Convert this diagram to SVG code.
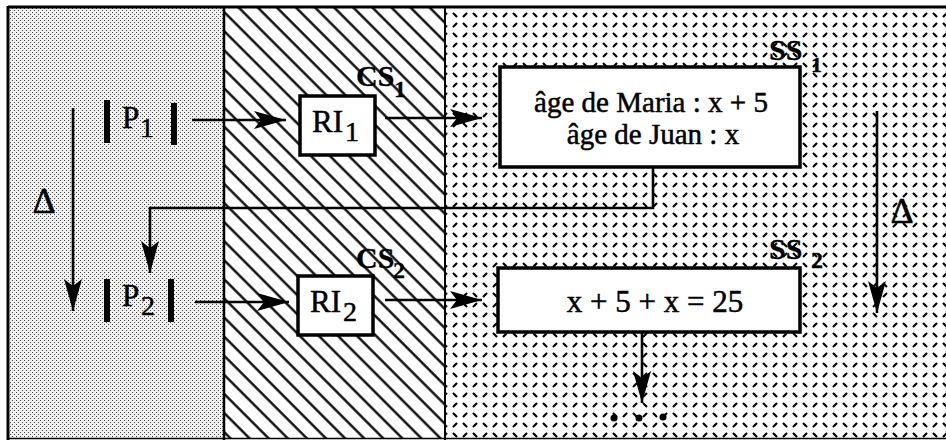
<svg xmlns="http://www.w3.org/2000/svg" width="946" height="440" viewBox="0 0 946 440">
<style>
.box{fill:#fff;stroke:#000;stroke-width:3.5}
.bar{fill:#000}
.t{font-family:"Liberation Serif","Times New Roman",serif;fill:#000;stroke:#000;stroke-width:0.5}
.b{font-weight:bold;stroke-width:0.3}
.conn{fill:none;stroke:#000;stroke-width:2.6}
.frame{stroke:#000;fill:none}
</style>
<defs>
<pattern id="dots" width="4" height="4" patternUnits="userSpaceOnUse">
<rect width="4" height="4" fill="#f2f2f2"/>
<rect x="0" y="0" width="1" height="1" fill="#444"/>
<rect x="2" y="2" width="1" height="1" fill="#444"/>
</pattern>
<pattern id="hatch" width="13.5" height="13.5" patternUnits="userSpaceOnUse" patternTransform="rotate(-45)">
<rect width="13.5" height="13.5" fill="#fff"/>
<line x1="1.5" y1="0" x2="1.5" y2="13.5" stroke="#000" stroke-width="2.3"/>
</pattern>
<pattern id="dash" width="20" height="20" patternUnits="userSpaceOnUse">
<rect width="20" height="20" fill="#fff"/>
<g stroke="#000" stroke-width="2.2" stroke-linecap="butt">
<line x1="3" y1="3" x2="7" y2="7"/>
<line x1="13" y1="7" x2="17" y2="3"/>
<line x1="3" y1="17" x2="7" y2="13"/>
<line x1="13" y1="13" x2="17" y2="17"/>
</g>
</pattern>
<marker id="ah" markerUnits="userSpaceOnUse" markerWidth="34" markerHeight="18" refX="32" refY="9" orient="auto">
<path d="M0,0 L32,9 L0,18 L7,9 z" fill="#000"/>
</marker>
</defs>

<g id="zones">
<rect x="9" y="8" width="215" height="431" fill="url(#dots)"/>
<rect x="224" y="8" width="221" height="431" fill="url(#hatch)"/>
<rect x="445" y="8" width="501" height="431" fill="url(#dash)"/>
<line class="frame" x1="8" y1="7" x2="946" y2="7" stroke-width="3"/>
<line class="frame" x1="8" y1="6" x2="8" y2="440" stroke-width="3"/>
<line class="frame" x1="8" y1="438.5" x2="946" y2="438.5" stroke-width="1.5"/>
<line class="frame" x1="224" y1="7" x2="224" y2="440" stroke-width="2.5"/>
<line class="frame" x1="445" y1="7" x2="445" y2="440" stroke-width="2"/>
</g>

<g id="connectors">
<line class="conn" x1="192" y1="120" x2="286" y2="120" marker-end="url(#ah)"/>
<line class="conn" x1="385" y1="118" x2="482" y2="118" marker-end="url(#ah)"/>
<polyline class="conn" points="653,167 653,208 150,208 150,273" marker-end="url(#ah)"/>
<line class="conn" x1="195" y1="302" x2="289" y2="302" marker-end="url(#ah)"/>
<line class="conn" x1="385" y1="300" x2="482" y2="300" marker-end="url(#ah)"/>
<line class="conn" x1="642" y1="332" x2="642" y2="403" marker-end="url(#ah)"/>
<line class="conn" x1="73" y1="108" x2="73" y2="311" marker-end="url(#ah)"/>
<line class="conn" x1="877" y1="111" x2="877" y2="313" marker-end="url(#ah)"/>
</g>

<g id="P1">
<rect class="bar" x="104" y="100" width="6" height="43"/>
<rect class="bar" x="171" y="103" width="6" height="42"/>
<text class="t" x="122" y="128" font-size="31">P</text>
<text class="t" x="140" y="137" font-size="28">1</text>
</g>

<g id="P2">
<rect class="bar" x="104" y="279" width="6" height="43"/>
<rect class="bar" x="168" y="279" width="6" height="43"/>
<text class="t" x="122" y="306" font-size="31">P</text>
<text class="t" x="141" y="315" font-size="28">2</text>
</g>

<g id="RI1">
<rect class="box" x="300" y="96" width="75" height="59"/>
<text class="t" x="312" y="132" font-size="31">RI</text>
<text class="t" x="345" y="141" font-size="28">1</text>
</g>

<g id="RI2">
<rect class="box" x="298" y="276" width="75" height="59"/>
<text class="t" x="310" y="312" font-size="31">RI</text>
<text class="t" x="343" y="321" font-size="28">2</text>
</g>

<g id="CS1">
<text class="t b" x="356" y="86" font-size="30">CS</text>
<text class="t b" x="394" y="97" font-size="24">1</text>
</g>

<g id="CS2">
<text class="t b" x="356" y="268" font-size="30">CS</text>
<text class="t b" x="393" y="278" font-size="24">2</text>
</g>

<g id="SS1">
<text class="t b" x="769" y="60" font-size="30">SS</text>
<text class="t b" x="811" y="72" font-size="22">1</text>
</g>

<g id="SS2">
<text class="t b" x="769" y="259" font-size="30">SS</text>
<text class="t b" x="811" y="268" font-size="24">2</text>
</g>

<g id="box1">
<rect class="box" x="500" y="67" width="300" height="100"/>
<text class="t" x="651" y="112" font-size="29" text-anchor="middle">âge de Maria : x + 5</text>
<text class="t" x="653" y="144" font-size="29" text-anchor="middle">âge de Juan : x</text>
</g>

<g id="box2">
<rect class="box" x="498" y="268" width="302" height="64"/>
<text class="t" x="655" y="312" font-size="31" text-anchor="middle">x + 5 + x = 25</text>
</g>

<g id="delta_left">
<text class="t" x="44" y="213" font-size="36" text-anchor="middle">Δ</text>
</g>
<g id="delta_right">
<text class="t" x="902" y="223" font-size="36" text-anchor="middle">Δ</text>
</g>

<g id="ellipsis">
<circle cx="614" cy="418" r="3.5"/>
<circle cx="639" cy="418" r="3.5"/>
<circle cx="663" cy="417" r="3.5"/>
</g>
</svg>
